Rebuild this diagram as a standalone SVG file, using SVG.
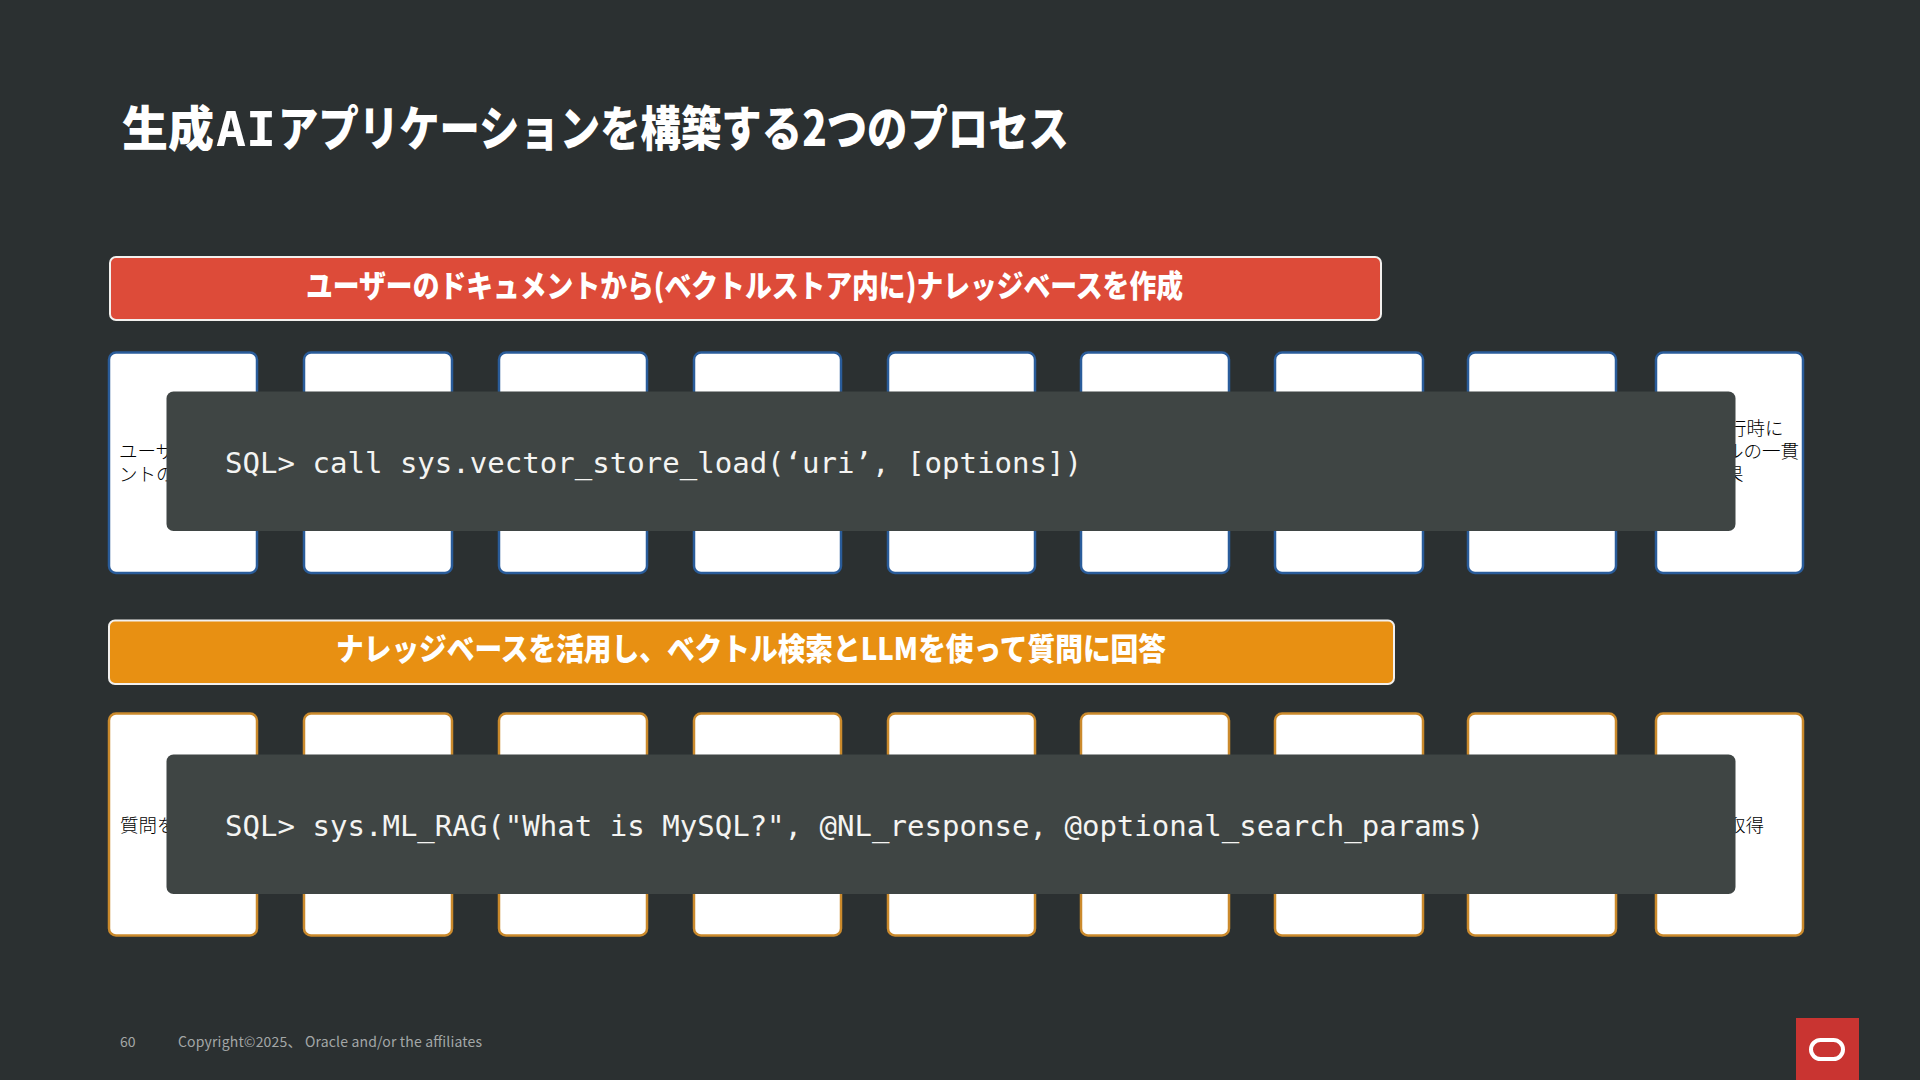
<svg xmlns="http://www.w3.org/2000/svg" width="1920" height="1080" viewBox="0 0 1920 1080">
<style>
.title{font-family:"Noto Sans CJK JP","Noto Sans",sans-serif;font-weight:900;fill:#fff;font-size:48px}
.lat{font-family:"DejaVu Sans Mono","Noto Sans CJK JP",monospace;font-weight:700}
.bh{font-family:"Noto Sans CJK JP","Noto Sans",sans-serif;font-weight:900;fill:#fff;font-size:31px}
.banner{stroke:#f2f0ee;stroke-width:2}
.card{fill:#fff;stroke-width:2.500}
.blue .card{stroke:#2a5c9a}
.orange .card{stroke:#cb8a2c}
.t{font-family:"Noto Sans CJK JP","Noto Sans",sans-serif;font-size:18.5px;font-weight:300;fill:#000}
.panel{fill:#3f4544}
.sql{font-family:"DejaVu Sans Mono","Liberation Mono",monospace;font-size:29.05px;fill:#f4f4f2}
.foot{font-family:"Noto Sans CJK JP","Noto Sans",sans-serif;font-size:14px;fill:#a3a7a7}
</style>
<rect width="1920" height="1080" fill="#2b3031"/>
<g id="title"><text class="title" x="122" y="146" textLength="92" lengthAdjust="spacingAndGlyphs">生成</text><text class="title lat" x="216" y="146" textLength="60" lengthAdjust="spacingAndGlyphs">AI</text><text class="title" x="278" y="146" textLength="791" lengthAdjust="spacingAndGlyphs">アプリケーションを構築する2つのプロセス</text></g>

<g id="banner-top"><rect class="banner" x="110" y="257" width="1271" height="63" rx="6" fill="#dd4b39"/>
<text class="bh" x="306" y="297" textLength="877" lengthAdjust="spacingAndGlyphs">ユーザーのドキュメントから(ベクトルストア内に)ナレッジベースを作成</text></g>

<g id="row-top" class="blue">
<g id="top-1"><rect class="card" x="109" y="352.500" width="148" height="220.500" rx="7"/><text class="t"><tspan x="119" y="458">ユーザ</tspan><tspan x="119" y="481">ントの</tspan></text></g>
<g id="top-2"><rect class="card" x="304" y="352.500" width="148" height="220.500" rx="7"/></g>
<g id="top-3"><rect class="card" x="499" y="352.500" width="148" height="220.500" rx="7"/></g>
<g id="top-4"><rect class="card" x="694" y="352.500" width="147" height="220.500" rx="7"/></g>
<g id="top-5"><rect class="card" x="888" y="352.500" width="147" height="220.500" rx="7"/></g>
<g id="top-6"><rect class="card" x="1081" y="352.500" width="148" height="220.500" rx="7"/></g>
<g id="top-7"><rect class="card" x="1275" y="352.500" width="148" height="220.500" rx="7"/></g>
<g id="top-8"><rect class="card" x="1468" y="352.500" width="148" height="220.500" rx="7"/></g>
<g id="top-9"><rect class="card" x="1656" y="352.500" width="147" height="220.500" rx="7"/><text class="t"><tspan x="1728" y="435">行時に</tspan><tspan x="1725" y="458">ルの一貫</tspan><tspan x="1725" y="481">果</tspan></text></g>
</g>
<g id="panel-top"><rect class="panel" x="166.500" y="391.500" width="1569" height="139.500" rx="7"/>
<text class="sql" x="225" y="473">SQL&gt; call sys.vector_store_load(‘uri’, [options])</text></g>

<g id="banner-bottom"><rect class="banner" x="109" y="620.500" width="1285" height="63.500" rx="6" fill="#e89012"/>
<text class="bh" x="336" y="660" textLength="830" lengthAdjust="spacingAndGlyphs">ナレッジベースを活用し、ベクトル検索とLLMを使って質問に回答</text></g>

<g id="row-bottom" class="orange">
<g id="bottom-1"><rect class="card" x="109" y="713.500" width="148" height="222" rx="7"/><text class="t" x="120" y="832">質問を</text></g>
<g id="bottom-2"><rect class="card" x="304" y="713.500" width="148" height="222" rx="7"/></g>
<g id="bottom-3"><rect class="card" x="499" y="713.500" width="148" height="222" rx="7"/></g>
<g id="bottom-4"><rect class="card" x="694" y="713.500" width="147" height="222" rx="7"/></g>
<g id="bottom-5"><rect class="card" x="888" y="713.500" width="147" height="222" rx="7"/></g>
<g id="bottom-6"><rect class="card" x="1081" y="713.500" width="148" height="222" rx="7"/></g>
<g id="bottom-7"><rect class="card" x="1275" y="713.500" width="148" height="222" rx="7"/></g>
<g id="bottom-8"><rect class="card" x="1468" y="713.500" width="148" height="222" rx="7"/></g>
<g id="bottom-9"><rect class="card" x="1656" y="713.500" width="147" height="222" rx="7"/><text class="t" x="1727" y="832">取得</text></g>
</g>
<g id="panel-bottom"><rect class="panel" x="166.500" y="754.500" width="1569" height="139.500" rx="7"/>
<text class="sql" x="225" y="836">SQL&gt; sys.ML_RAG("What is MySQL?", @NL_response, @optional_search_params)</text></g>

<g id="footer"><text class="foot" x="120" y="1047">60</text>
<text class="foot" x="178" y="1047" textLength="304" lengthAdjust="spacing">Copyright©2025、 Oracle and/or the affiliates</text></g>
<g id="logo"><rect x="1796" y="1018" width="63" height="62" fill="#c93431"/><rect x="1811" y="1040" width="32" height="19" rx="9.500" fill="none" stroke="#fff" stroke-width="4"/></g>
</svg>
